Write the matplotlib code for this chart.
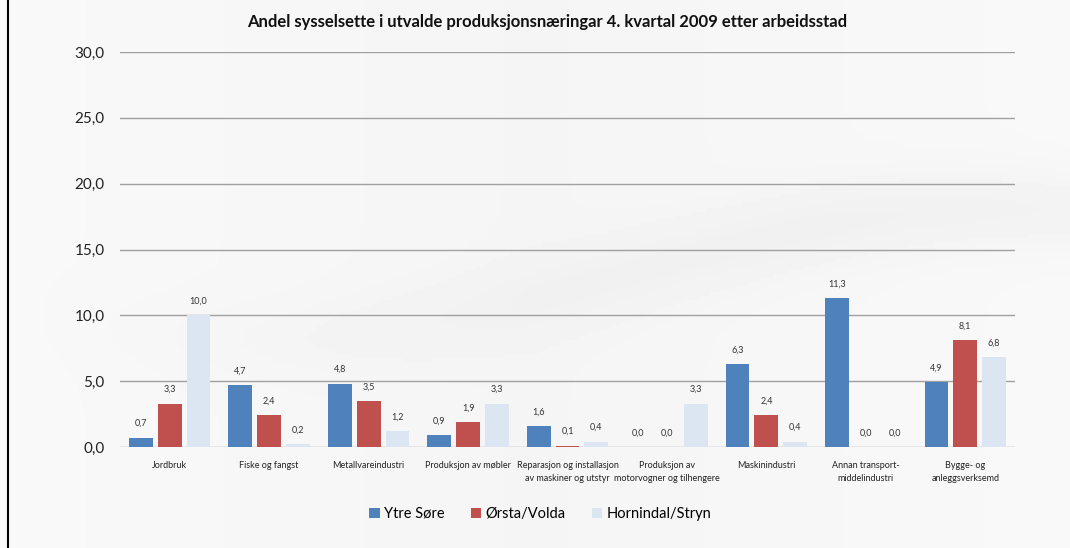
import numpy as np
import matplotlib.pyplot as plt
from matplotlib.lines import Line2D

plt.rcParams['font.family'] = ['Lato', 'DejaVu Sans']

categories = ['Jordbruk', 'Fiske og fangst', 'Metallvareindustri',
              'Produksjon av møbler',
              'Reparasjon og installasjon\nav maskiner og utstyr',
              'Produksjon av\nmotorvogner og tilhengere',
              'Maskinindustri', 'Annan transport-\nmiddelindustri',
              'Bygge- og\nanleggsverksemd']
series_names = ['Ytre Søre', 'Ørsta/Volda', 'Hornindal/Stryn']
ytre_sore = [0.7, 4.7, 4.8, 0.9, 1.6, 0.0, 6.3, 11.3, 4.9]
orsta_volda = [3.3, 2.4, 3.5, 1.9, 0.1, 0.0, 2.4, 0.0, 8.1]
hornindal_stryn = [10.0, 0.2, 1.2, 3.3, 0.4, 3.3, 0.4, 0.0, 6.8]
yticks = [0, 5, 10, 15, 20, 25, 30]

colors = ['#4F81BD', '#C0504D', '#DCE6F2']
title = 'Andel sysselsette i utvalde produksjonsnæringar 4. kvartal 2009 etter arbeidsstad'

fig = plt.figure(figsize=(10.70, 5.48), dpi=100)
fig.patch.set_facecolor('#f7f8fa')

# soft background gradient with a faint swoosh
bg = fig.add_axes([0, 0, 1, 1], zorder=-10)
gx = np.linspace(0, 1, 300)
gy = np.linspace(0, 1, 150)
GX, GY = np.meshgrid(gx, gy)
band = 0.5 + 0.12 * np.sin(GX * 4.5 + 0.5)
grad = 0.975 - 0.025 * np.exp(-((GY - band) ** 2) / 0.006) * np.clip(GX * 1.3, 0, 1) \
       - 0.015 * (1 - np.abs(GX - 0.5) * 2)
bg.imshow(grad, cmap='gray', vmin=0, vmax=1, aspect='auto', extent=[0, 1, 0, 1])
bg.axis('off')
fig.add_artist(Line2D([0.0075, 0.0075], [0, 1], color='black', lw=1.5,
                      transform=fig.transFigure))

ax = fig.add_axes([120 / 1070, 1 - 447 / 548, 895 / 1070, 395 / 548])
ax.patch.set_alpha(0)

x = np.arange(len(categories))
width = 0.24
step = 0.29
all_series = [ytre_sore, orsta_volda, hornindal_stryn]
for i, (vals, name, col) in enumerate(zip(all_series, series_names, colors)):
    pos = x + (i - 1) * step
    ax.bar(pos, vals, width, color=col, label=name, zorder=3)
    for px, v in zip(pos, vals):
        ax.annotate(f'{v:.1f}'.replace('.', ','), (px, v), xytext=(0, 7),
                    textcoords='offset points', ha='center', va='bottom',
                    fontsize=6.5, color='#333333')

ax.set_xlim(-0.5, len(categories) - 0.5)
ax.set_ylim(0, 30)
ax.set_yticks(yticks)
ax.set_yticklabels([f'{t:.1f}'.replace('.', ',') for t in yticks], fontsize=11, color='#222222')
ax.set_xticks(x)
ax.set_xticklabels(categories, fontsize=6.5, color='#222222', linespacing=1.6)
ax.tick_params(axis='both', length=0)
ax.tick_params(axis='y', pad=11)
ax.tick_params(axis='x', pad=10)
ax.yaxis.grid(True, color='#a0a0a0', lw=1)
ax.set_axisbelow(True)
for s in ax.spines.values():
    s.set_visible(False)

fig.text(547 / 1070, 1 - 22 / 548, title, ha='center', va='center', fontsize=12,
         fontweight='bold', color='#111111')

fig.legend(loc='center', bbox_to_anchor=(0.505, 1 - 514 / 548), ncol=3,
           frameon=False, fontsize=10.5, handlelength=0.7, handleheight=0.7,
           handletextpad=0.3, columnspacing=1.8)

fig.savefig('out.png', dpi=100, facecolor=fig.get_facecolor())
